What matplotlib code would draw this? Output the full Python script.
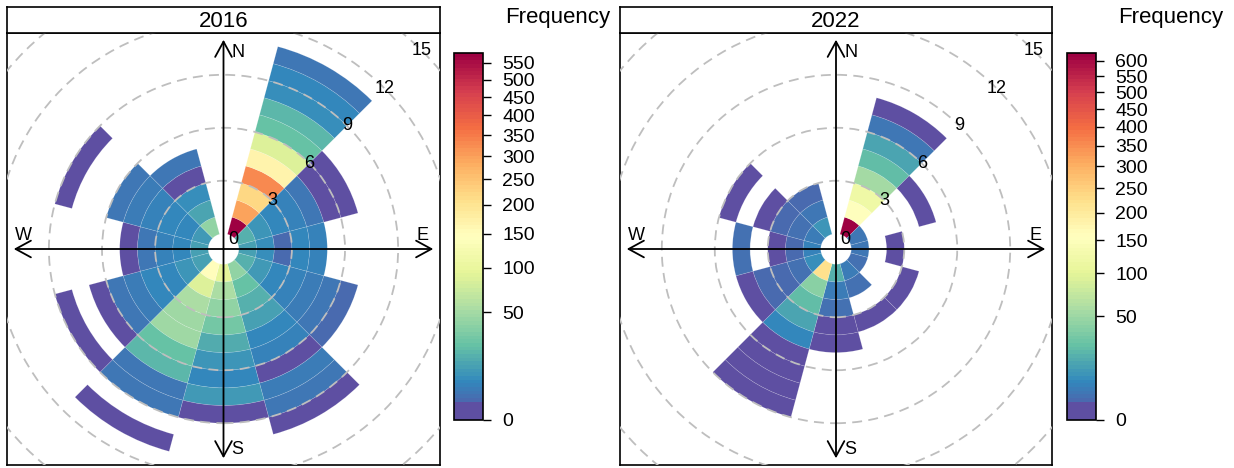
import numpy as np
import matplotlib
matplotlib.use("Agg")
import matplotlib.pyplot as plt
from matplotlib.patches import Wedge, Circle
from matplotlib.collections import PatchCollection
from matplotlib.colors import FuncNorm, ListedColormap

plt.rcParams['font.family'] = ['Liberation Sans', 'DejaVu Sans']

# wind direction sectors (centre, degrees) and 1 m/s speed bins
directions = [0, 30, 60, 90, 120, 150, 180, 210, 240, 270, 300, 330]
years = ["2016", "2022"]

# counts per sector, one value per speed bin (0-1, 1-2, ...)
counts_2016 = [
    [],
    [581, 300, 223, 327, 165, 85, 24, 20, 8, 6, 3],
    [18, 9, 6, 5, 3, 1, 1],
    [13, 8, 2, 6, 5],
    [18, 10, 7, 5, 4, 3, 2],
    [40, 25, 18, 12, 7, 5, 1, 4, 3, 1],
    [95, 55, 42, 30, 16, 9, 6, 11, 1],
    [150, 85, 55, 48, 48, 25, 20, 3, 3, 0, 1],
    [12, 9, 7, 6, 4, 3, 1, 0, 1],
    [12, 7, 5, 3, 1],
    [10, 7, 6, 5, 4, 3, 0, 0, 1],
    [40, 14, 8, 1, 3],
]
counts_2022 = [
    [],
    [627, 156, 116, 56, 23, 16, 4, 1],
    [4, 0, 0, 0, 1],
    [4, 0, 1],
    [3, 0, 0, 1],
    [5, 3, 0, 1],
    [20, 5, 3, 1, 1],
    [225, 40, 25, 15, 7, 1, 1, 1, 1],
    [8, 3, 2, 2, 1],
    [6, 2, 1, 0, 3],
    [5, 3, 2, 1, 0, 1],
    [10, 4, 2],
]
ticks_2016 = list(range(0, 551, 50))
ticks_2022 = list(range(0, 601, 50))
ring_labels = [0, 3, 6, 9, 12, 15]

offset = 0.865      # radius of the empty hole in the middle
px_per_unit = 17.7
W, H = 1234, 468


def fbox(x0, y0, x1, y1):
    return [x0 / W, 1 - y1 / H, (x1 - x0) / W, (y1 - y0) / H]


def draw_panel(ax, counts, norm, cmap):
    patches, vals = [], []
    for d, row in zip(directions, counts):
        for i, c in enumerate(row):
            if c <= 0:
                continue
            patches.append(Wedge((0, 0), offset + i + 1, 90 - d - 15, 90 - d + 15, width=1))
            vals.append(c)
    pc = PatchCollection(patches, cmap=cmap, norm=norm,
                         edgecolor=(1, 1, 1, 0.22), linewidth=0.4, zorder=2)
    pc.set_array(np.array(vals, dtype=float))
    ax.add_collection(pc)

    for k in ring_labels[1:]:
        ax.add_patch(Circle((0, 0), offset + k, fill=False, ec='#BEBEBE',
                            lw=1.3, ls=(0, (5.5, 3.5)), zorder=3))
    c45 = np.cos(np.pi / 4)
    for k in ring_labels:
        r = offset + k if k else 0.75
        ax.text(r * c45, r * c45, str(k), ha='center', va='center',
                fontsize=13, zorder=5)

    tip = 11.85
    for dx, dy in [(0, 1), (1, 0), (0, -1), (-1, 0)]:
        ax.annotate('', xy=(dx * tip, dy * tip), xytext=(0, 0),
                    arrowprops=dict(arrowstyle='->,head_length=0.55,head_width=0.3',
                                    lw=1.3, color='black', mutation_scale=20,
                                    shrinkA=0, shrinkB=0), zorder=4)
    ax.text(0.85, 11.13, 'N', ha='center', va='center', fontsize=13, zorder=5)
    ax.text(-11.3, 0.79, 'W', ha='center', va='center', fontsize=13, zorder=5)
    ax.text(11.27, 0.79, 'E', ha='center', va='center', fontsize=13, zorder=5)
    ax.text(0.8, -11.36, 'S', ha='center', va='center', fontsize=13, zorder=5)

    lim = 216.5 / px_per_unit
    ax.set_xlim(-lim, lim)
    ax.set_ylim(-lim, lim)
    ax.set_xticks([])
    ax.set_yticks([])
    for s in ax.spines.values():
        s.set_linewidth(1.2)
    return pc


# Spectral_r in 100 steps, lowest band kept purple like the original key
colours = plt.get_cmap('Spectral_r')(np.linspace(0, 1, 100))
colours[:5] = colours[0]
cmap = ListedColormap(colours)

fig = plt.figure(figsize=(12.34, 4.68), dpi=100)

layout = [
    (counts_2016, ticks_2016, 7, 440, 454, 483, 558),
    (counts_2022, ticks_2022, 620, 1052, 1067, 1096, 1171),
]

for year, (counts, ticks, x0, x1, cx0, cx1, fx) in zip(years, layout):
    vmax = max(max(r) for r in counts if r)
    norm = FuncNorm((np.sqrt, np.square), vmin=0, vmax=vmax)

    ax = fig.add_axes(fbox(x0, 33, x1, 465))
    pc = draw_panel(ax, counts, norm, cmap)

    strip = fig.add_axes(fbox(x0, 7, x1, 33))
    strip.set_xticks([])
    strip.set_yticks([])
    for s in strip.spines.values():
        s.set_linewidth(1.2)
    strip.text(0.5, 0.45, year, ha='center', va='center', fontsize=16,
               transform=strip.transAxes)

    cax = fig.add_axes(fbox(cx0, 53, cx1, 420))
    cb = fig.colorbar(pc, cax=cax)
    cb.set_ticks(ticks)
    cb.outline.set_linewidth(1.2)
    cax.tick_params(direction='out', length=6, width=1, labelsize=14, pad=8)
    cax.minorticks_off()

    fig.text(fx / W, 1 - 17 / H, 'Frequency', ha='center', va='center', fontsize=16)

fig.savefig('out.png', dpi=100)
